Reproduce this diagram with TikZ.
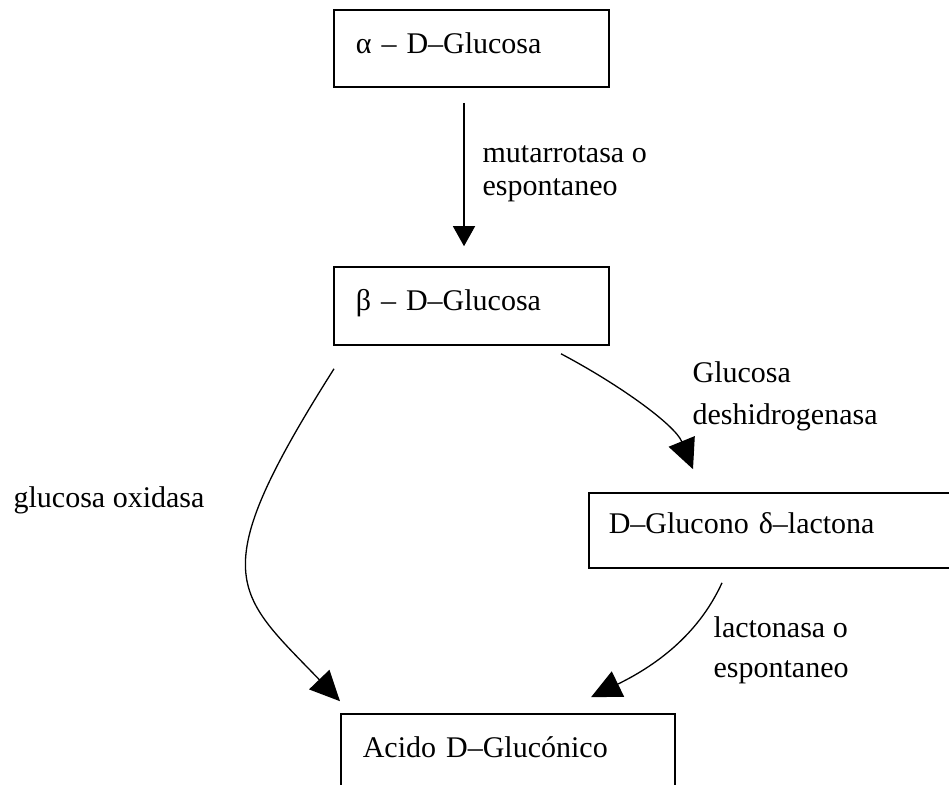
\documentclass[tikz,border=0pt]{standalone}
\usepackage{fontspec}
\setmainfont{Liberation Serif}
\usetikzlibrary{arrows.meta,calc}
\newcommand\diagfont{\fontsize{30}{33}\selectfont}
\begin{document}
\begin{tikzpicture}[x=1pt,y=-1pt,line width=1.3pt,
  box/.style={draw,line width=1.6pt,rectangle,anchor=base west,inner ysep=0pt,align=left,font=\diagfont},
  lbl/.style={anchor=base west,inner sep=0pt,font=\diagfont},
  arrs/.style={-{Triangle[length=20pt,width=22pt]}},
  arrc/.style={-{Triangle[length=30pt,width=28pt]}}]
\clip (0,0) rectangle (949,784);
% boxes
\node[box,text width=231pt,inner xsep=22pt,text height=43pt,text depth=34pt] (a) at (333,53) {α – D–Glucosa};
\node[box,text width=231pt,inner xsep=22pt,text height=43pt,text depth=35pt] (b) at (333,310) {β – D–Glucosa};
\node[box,text width=340pt,inner xsep=20pt,text height=40pt,text depth=35pt] (c) at (588,533) {D–Glucono δ–lactona};
\node[box,text width=290pt,inner xsep=22pt,text height=43pt,text depth=50pt] (d) at (340,757) {Acido D–Glucónico};
% labels
\node[lbl] (l1a) at (482,162) {mutarrotasa o};
\node[lbl] (l1b) at (482,195) {espontaneo};
\node[lbl] (l2a) at (692,382) {Glucosa};
\node[lbl] (l2b) at (692,424) {deshidrogenasa};
\node[lbl] (l3) at (13,507) {glucosa oxidasa};
\node[lbl] (l4a) at (713,637) {lactonasa o};
\node[lbl] (l4b) at (713,677) {espontaneo};
% connectors
\draw[arrs] ($(a.south west)+(131,15)$) -- ($(b.north west)+(131,-20)$);
\draw[arrc] ($(b.south west)+(228,8)$) .. controls (620,385) and (675,425) .. ($(c.north west)+(105,-23)$);
\draw[arrc] ($(b.south west)+(1,23)$) .. controls (202,577) and (235,592) .. ($(d.north west)+(0,-12)$);
\draw[arrc] ($(c.south west)+(134,14)$) .. controls (700,631) and (661,663) .. ($(d.north west)+(251,-16)$);
\end{tikzpicture}
\end{document}
